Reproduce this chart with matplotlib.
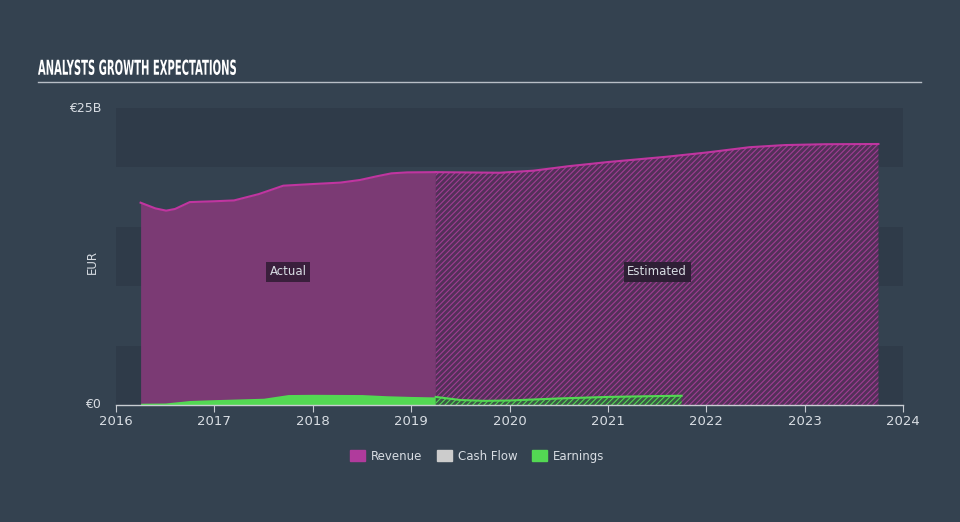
import numpy as np
import matplotlib.pyplot as plt
from matplotlib.patches import Patch, PathPatch
from matplotlib.textpath import TextPath
from matplotlib.font_manager import FontProperties
from matplotlib.transforms import Affine2D, IdentityTransform

# Revenue (EUR billions)
rev_act_x = [2016.25, 2016.4, 2016.51, 2016.6, 2016.75, 2017.0, 2017.2, 2017.45, 2017.7,
             2018.0, 2018.28, 2018.48, 2018.65, 2018.8, 2018.96, 2019.25]
rev_act_y = [17.03, 16.55, 16.36, 16.5, 17.08, 17.15, 17.22, 17.75, 18.46,
             18.6, 18.72, 18.94, 19.25, 19.5, 19.58, 19.6]
rev_est_x = [2019.25, 2019.5, 2019.9, 2020.24, 2020.6, 2021.0, 2021.6, 2022.0, 2022.44, 2022.8, 2023.2, 2023.75]
rev_est_y = [19.6, 19.58, 19.55, 19.72, 20.1, 20.45, 20.9, 21.25, 21.7, 21.88, 21.95, 21.97]

# Earnings (EUR billions)
earn_act_x = [2016.25, 2016.5, 2016.75, 2017.0, 2017.5, 2017.75, 2018.0, 2018.5, 2018.75, 2019.0, 2019.25]
earn_act_y = [0.15, 0.17, 0.38, 0.45, 0.57, 0.88, 0.9, 0.88, 0.78, 0.72, 0.68]
earn_est_x = [2019.25, 2019.5, 2019.75, 2020.0, 2020.5, 2021.0, 2021.5, 2021.75]
earn_est_y = [0.68, 0.42, 0.35, 0.38, 0.55, 0.68, 0.75, 0.78]

years = list(range(2016, 2025))

bg = '#344250'
band = '#2f3b49'
rev_line = '#c035a0'
rev_fill = '#7b3a74'
earn_col = '#53d853'
txt = '#d8dde3'

plt.rcParams['hatch.linewidth'] = 0.8

fig = plt.figure(figsize=(9.6, 5.22), dpi=100, facecolor=bg)
ax = fig.add_axes([116/960, 1 - 405/522, 787/960, 297/522])
ax.set_facecolor(bg)
ax.set_xlim(2016, 2024)
ax.set_ylim(0, 25)

# horizontal bands
for lo in (0, 10, 20):
    ax.axhspan(lo, lo + 5, color=band, lw=0, zorder=0)

# revenue actual
ax.fill_between(rev_act_x, rev_act_y, color=rev_fill, lw=0, zorder=1)
ax.plot(rev_act_x, rev_act_y, color=rev_line, lw=1.5, zorder=3)
# revenue estimated (hatched)
ax.fill_between(rev_est_x, rev_est_y, facecolor='#533059', edgecolor='#a03d93',
                hatch='//////', lw=0, zorder=1)
ax.plot(rev_est_x, rev_est_y, color=rev_line, lw=1.5, zorder=3)

# earnings
ax.fill_between(earn_act_x, earn_act_y, color=earn_col, lw=0, zorder=2)
ax.fill_between(earn_est_x, earn_est_y, facecolor='#3a5a45', edgecolor=earn_col,
                hatch='//////', lw=0, zorder=2)
ax.plot(earn_est_x, earn_est_y, color=earn_col, lw=1.5, zorder=3)

ax.text(2017.75, 11.2, 'Actual', color=txt, fontsize=8.5, ha='center', va='center',
        bbox=dict(boxstyle='square,pad=0.3', fc='#3a1f3c', ec='none'), zorder=4)
ax.text(2021.5, 11.2, 'Estimated', color=txt, fontsize=8.5, ha='center', va='center',
        bbox=dict(boxstyle='square,pad=0.3', fc='#2e1f35', ec='none'), zorder=4)

for s in ('top', 'right', 'left'):
    ax.spines[s].set_visible(False)
ax.spines['bottom'].set_color('#c8ccd2')
ax.spines['bottom'].set_linewidth(1)
ax.set_xticks(years)
ax.set_xticklabels([str(y) for y in years])
ax.tick_params(axis='x', colors='#c8ccd2', labelcolor=txt, labelsize=9.5, length=5,
               direction='out', pad=2)
ax.set_yticks([])

fig.text(101/960, 1 - 108/522, '€25B', color=txt, fontsize=9, ha='right', va='center')
fig.text(101/960, 1 - 405/522, '€0', color=txt, fontsize=9, ha='right', va='center')
fig.text(92/960, 1 - 262/522, 'EUR', color=txt, fontsize=8.5, rotation=90, ha='center', va='center')

# condensed title, drawn as a squeezed text path (pixel coordinates)
title = 'ANALYSTS GROWTH EXPECTATIONS'
tp = TextPath((0, 0), title, size=20, prop=FontProperties(family='DejaVu Sans', weight='bold'))
ext = tp.get_extents()
sx = 198 / ext.width
sy = 15.5 / ext.height
tr = Affine2D().translate(-ext.x0, -ext.y0).scale(sx, sy).translate(38, 522 - 75)
title_patch = PathPatch(tr.transform_path(tp), facecolor='white', edgecolor='none')
title_patch.set_transform(IdentityTransform())
fig.add_artist(title_patch)
fig.add_artist(plt.Line2D([38/960, 921/960], [1 - 82/522, 1 - 82/522], color='#b8bec6', lw=1))

handles = [Patch(color='#b03b9c', label='Revenue'),
           Patch(color='#cccccc', label='Cash Flow'),
           Patch(color=earn_col, label='Earnings')]
leg = fig.legend(handles=handles, loc='center', bbox_to_anchor=(0.497, 1 - 456/522), ncol=3,
                 frameon=False, fontsize=8.5, handlelength=1.3, handleheight=1.0,
                 columnspacing=1.2, handletextpad=0.5)
for t in leg.get_texts():
    t.set_color(txt)

fig.savefig('out.png', dpi=100, facecolor=bg)
